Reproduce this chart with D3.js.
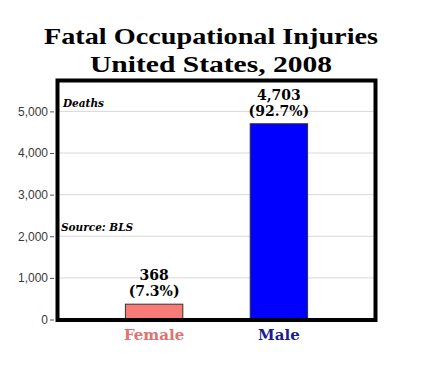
<!DOCTYPE html>
<html><head><meta charset="utf-8">
<script src="https://cdn.jsdelivr.net/npm/d3@7"></script>
<style>body{margin:0;background:#fff}</style>
</head><body><svg id="c" width="433" height="367"></svg>
<script>
const categories = ["Female", "Male"];
const deaths = [368, 4703];
const shares = ["(7.3%)", "(92.7%)"];
const yTicks = [0, 1000, 2000, 3000, 4000, 5000];
const barColors = ["#f77b76", "#0000ff"];
const labelColors = ["#e0716e", "#1c1c8e"];

const svg = d3.select("#c");
const L = 58, R = 375, T = 81, B = 319.5;
const x = d3.scaleBand().domain(categories).range([L, R]).paddingInner(0.54).paddingOuter(0.54);
const y = d3.scaleLinear().domain([0, 5730]).range([B, T]);

// grid
svg.append("g").selectAll("line").data(yTicks.slice(1)).join("line")
  .attr("x1", L).attr("x2", R).attr("y1", d => y(d)).attr("y2", d => y(d))
  .attr("stroke", "#d8d8d8").attr("stroke-width", 1);

// axis
const ax = svg.append("g").attr("transform", `translate(${L - 4},0)`)
  .call(d3.axisLeft(y).tickValues(yTicks).tickFormat(d3.format(",")).tickSize(4).tickSizeOuter(0));
ax.select(".domain").remove();
ax.selectAll("line").attr("stroke", "#555");
ax.selectAll("text").attr("font-family", "Liberation Sans, Arial, sans-serif").attr("font-size", 12).attr("fill", "#3a3a3a").attr("x", -6);

// bars
svg.append("g").selectAll("rect").data(categories).join("rect")
  .attr("x", d => x(d)).attr("width", x.bandwidth())
  .attr("y", (d, i) => y(deaths[i])).attr("height", (d, i) => B - y(deaths[i]))
  .attr("fill", (d, i) => barColors[i]).attr("stroke", "#333").attr("stroke-width", 1);

// value labels
const vf = "DejaVu Serif, Georgia, serif";
svg.append("g").selectAll("text").data(categories).join("text")
  .attr("x", d => x(d) + x.bandwidth() / 2).attr("y", (d, i) => y(deaths[i]) - 24)
  .attr("text-anchor", "middle").attr("font-family", vf).attr("font-weight", "bold").attr("font-size", 14)
  .text((d, i) => d3.format(",")(deaths[i]));
svg.append("g").selectAll("text").data(categories).join("text")
  .attr("x", d => x(d) + x.bandwidth() / 2).attr("y", (d, i) => y(deaths[i]) - 8)
  .attr("text-anchor", "middle").attr("font-family", vf).attr("font-weight", "bold").attr("font-size", 14)
  .text((d, i) => shares[i]);

// category labels
svg.append("g").selectAll("text").data(categories).join("text")
  .attr("x", d => x(d) + x.bandwidth() / 2).attr("y", 340)
  .attr("text-anchor", "middle").attr("font-family", vf).attr("font-weight", "bold").attr("font-size", 15)
  .attr("fill", (d, i) => labelColors[i]).text(d => d);

// frame
svg.append("rect").attr("x", L - 0.5).attr("y", T - 0.5).attr("width", R - L + 1).attr("height", B - T + 1)
  .attr("fill", "none").attr("stroke", "#000").attr("stroke-width", 4);

// annotations
svg.append("text").attr("x", 63).attr("y", 107).attr("font-family", vf).attr("font-style", "italic")
  .attr("font-weight", "bold").attr("font-size", 10.5).text("Deaths");
svg.append("text").attr("x", 61).attr("y", 231).attr("font-family", vf).attr("font-style", "italic")
  .attr("font-weight", "bold").attr("font-size", 10.5).text("Source: BLS");

// title
const title = ["Fatal Occupational Injuries", "United States, 2008"];
const tw = [334, 242];
svg.append("g").selectAll("text").data(title).join("text")
  .attr("x", 211).attr("y", (d, i) => 44 + i * 28)
  .attr("text-anchor", "middle").attr("font-family", "Liberation Serif, Times New Roman, serif").attr("font-weight", "bold").attr("font-size", 24)
  .attr("textLength", (d, i) => tw[i]).attr("lengthAdjust", "spacingAndGlyphs")
  .text(d => d);
</script></body></html>
